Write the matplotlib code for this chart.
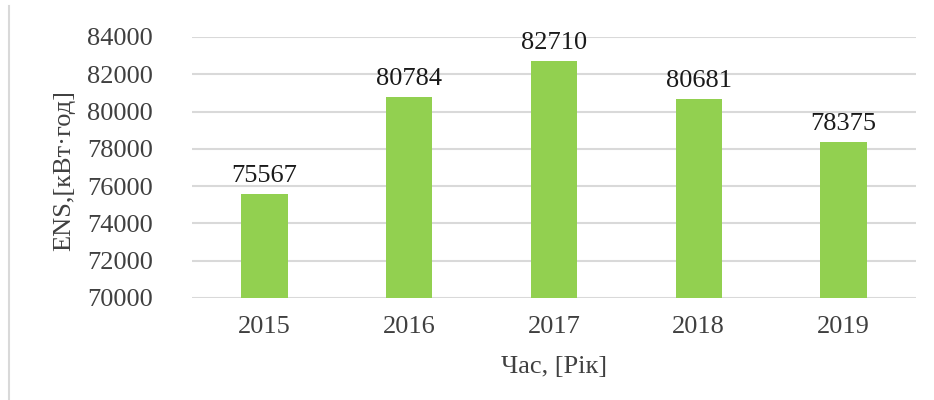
import matplotlib.pyplot as plt
from matplotlib.lines import Line2D

years = ['2015', '2016', '2017', '2018', '2019']
ens = [75567, 80784, 82710, 80681, 78375]
yticks = [70000, 72000, 74000, 76000, 78000, 80000, 82000, 84000]

plt.rcParams['font.family'] = ['Liberation Serif', 'DejaVu Serif']
text_color = '#404040'
fs = 19

fig = plt.figure(figsize=(9.34, 4.0), dpi=100)
ax = fig.add_axes([0.2056, 0.255, 0.7751, 0.6525])

x = range(len(years))
bars = ax.bar(x, ens, width=0.32, color='#92D050', zorder=3)
for rect, v in zip(bars, ens):
    ax.annotate(str(v), (rect.get_x() + rect.get_width() / 2, v),
                xytext=(0, 5), textcoords='offset points',
                ha='center', va='bottom', fontsize=fs, color='#1a1a1a')

ax.set_xlim(-0.5, len(years) - 0.5)
ax.set_ylim(70000, 84000)
ax.set_yticks(yticks)
ax.set_xticks(list(x))
ax.set_xticklabels(years)
ax.tick_params(axis='both', length=0, labelsize=fs, colors=text_color)
ax.tick_params(axis='y', pad=28)
ax.tick_params(axis='x', pad=13)

ax.yaxis.grid(True, color='#d9d9d9', linewidth=1.5, zorder=0)
ax.set_axisbelow(True)
for s in ax.spines.values():
    s.set_visible(False)

ax.set_xlabel('Час, [Рік]', fontsize=fs, color=text_color)
ax.xaxis.set_label_coords(0.5, -0.222)
ax.set_ylabel('ENS,[кВт·год]', fontsize=fs, color=text_color)
ax.yaxis.set_label_coords(-0.162, 0.49)

# left edge of the chart frame
fig.add_artist(Line2D([8.5 / 934, 8.5 / 934], [0, 1 - 6 / 400],
                      transform=fig.transFigure, color='#d9d9d9', linewidth=1.5))

fig.savefig('out.png', dpi=100)
